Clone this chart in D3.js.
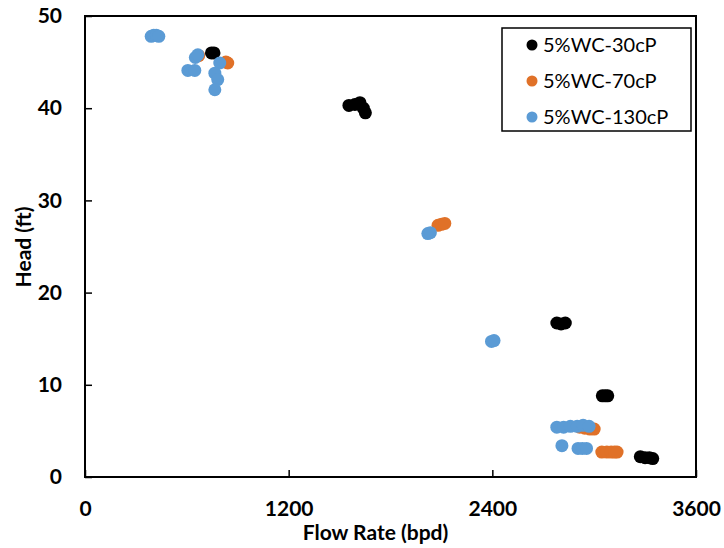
<!DOCTYPE html>
<html><head><meta charset="utf-8">
<script src="https://cdn.jsdelivr.net/npm/d3@7"></script>
<style>body{margin:0;background:#fff}</style>
</head><body>
<svg id="chart" width="724" height="548"></svg>
<script>
const xTicks = [0, 1200, 2400, 3600];
const yTicks = [0, 10, 20, 30, 40, 50];
const seriesNames = ["5%WC-30cP", "5%WC-70cP", "5%WC-130cP"];
const seriesColors = ["#000000", "#E07128", "#5B9BD5"];

const flow30 = [745, 760, 1555, 1590, 1620, 1640, 1652, 2780, 2805, 2830, 3048, 3065, 3080, 3272, 3300, 3325, 3345];
const head30 = [46.0, 46.0, 40.3, 40.4, 40.6, 40.0, 39.5, 16.7, 16.6, 16.7, 8.8, 8.8, 8.8, 2.2, 2.1, 2.1, 2.0];

const flow70 = [670, 841, 830, 2080, 2100, 2120, 2915, 2945, 2975, 3000, 3045, 3075, 3100, 3120, 3135];
const head70 = [45.7, 44.9, 45.0, 27.3, 27.4, 27.5, 5.4, 5.3, 5.2, 5.2, 2.7, 2.7, 2.7, 2.7, 2.7];

const flow130 = [390, 405, 420, 435, 606, 647, 650, 665, 794, 765, 782, 765, 2020, 2035, 2395, 2410, 2780, 2820, 2860, 2900, 2935, 2970, 2810, 2905, 2930, 2955];
const head130 = [47.8, 47.9, 47.9, 47.8, 44.1, 44.1, 45.5, 45.8, 44.9, 43.8, 43.1, 42.0, 26.4, 26.5, 14.7, 14.8, 5.4, 5.4, 5.5, 5.5, 5.6, 5.5, 3.4, 3.1, 3.1, 3.1];

const series = [
  {name: seriesNames[0], color: seriesColors[0], x: flow30, y: head30},
  {name: seriesNames[1], color: seriesColors[1], x: flow70, y: head70},
  {name: seriesNames[2], color: seriesColors[2], x: flow130, y: head130}
];

const svg = d3.select("#chart");
const m = {left: 85, top: 16, right: 28, bottom: 71};
const W = 724 - m.left - m.right, H = 548 - m.top - m.bottom;
const g = svg.append("g").attr("transform", `translate(${m.left},${m.top})`);
const x = d3.scaleLinear().domain([0, 3600]).range([0, W]);
const y = d3.scaleLinear().domain([0, 50]).range([H, 0]);
const font = "Lato, 'Open Sans', sans-serif";

// points
series.forEach(s => {
  g.append("g").selectAll("circle").data(s.x.map((v, i) => [v, s.y[i]]))
    .join("circle").attr("cx", d => x(d[0])).attr("cy", d => y(d[1]))
    .attr("r", 6.5).attr("fill", s.color);
});

// axes
const xa = g.append("g").attr("transform", `translate(0,${H})`)
  .call(d3.axisBottom(x).tickValues(xTicks).tickFormat(d3.format("d")).tickSizeInner(-7).tickSizeOuter(0).tickPadding(24));
const ya = g.append("g")
  .call(d3.axisLeft(y).tickValues(yTicks).tickFormat(d3.format("d")).tickSizeInner(-7).tickSizeOuter(0).tickPadding(23));
[xa, ya].forEach(a => {
  a.selectAll("text").attr("font-family", font).attr("font-weight", "bold").attr("font-size", 21).attr("fill", "#000");
  a.selectAll("line").attr("stroke", "#000").attr("stroke-width", 1.5);
  a.select(".domain").remove();
});
// frame
g.append("rect").attr("x", 0).attr("y", 0).attr("width", W).attr("height", H)
  .attr("fill", "none").attr("stroke", "#000").attr("stroke-width", 2);

// titles
svg.append("text").attr("x", m.left + W / 2 - 15).attr("y", 540).attr("text-anchor", "middle")
  .attr("font-family", font).attr("font-weight", "bold").attr("font-size", 21).text("Flow Rate (bpd)");
svg.append("text").attr("transform", "translate(31,247) rotate(-90)").attr("text-anchor", "middle")
  .attr("font-family", font).attr("font-weight", "bold").attr("font-size", 21).text("Head (ft)");

// legend
const lg = svg.append("g");
lg.append("rect").attr("x", 502).attr("y", 28).attr("width", 189).attr("height", 103)
  .attr("fill", "#fff").attr("stroke", "#000").attr("stroke-width", 1.5);
series.forEach((s, i) => {
  const cy = 45 + i * 36;
  lg.append("circle").attr("cx", 532).attr("cy", cy).attr("r", 5.5).attr("fill", s.color);
  lg.append("text").attr("x", 543).attr("y", cy).attr("dy", "0.36em")
    .attr("font-family", font).attr("font-size", 20).text(s.name);
});
</script>
</body></html>
